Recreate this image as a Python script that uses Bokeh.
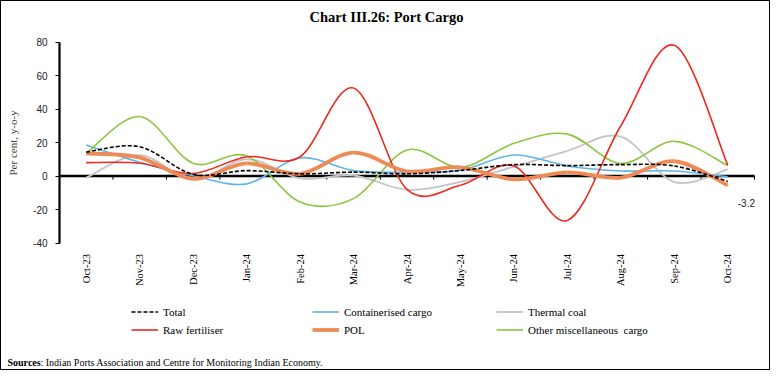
from bokeh.plotting import figure
from bokeh.models import (Range1d, FixedTicker, Label, Legend, LegendItem)
from bokeh.embed import file_html
from bokeh.resources import INLINE
import math

months = ["Oct-23", "Nov-23", "Dec-23", "Jan-24", "Feb-24", "Mar-24", "Apr-24",
          "May-24", "Jun-24", "Jul-24", "Aug-24", "Sep-24", "Oct-24"]
total = [14.3, 17.5, 1.0, 3.2, 1.3, 2.3, 1.3, 3.3, 6.8, 6.2, 6.8, 6.0, -3.2]
containerised = [18.5, 8.2, 0.2, -4.7, 10.8, 3.2, 2.2, 3.5, 12.5, 6.0, 3.0, 3.0, -0.5]
raw_fertiliser = [8.0, 7.6, 1.5, 11.5, 11.5, 52.5, -8.0, -5.5, 6.0, -26.5, 30.0, 78.0, 6.5]
pol = [13.5, 11.0, -1.5, 7.5, 1.3, 14.0, 2.8, 5.2, -2.0, 2.2, -1.0, 8.8, -5.6]
thermal_coal = [-1.0, 12.5, -2.5, 10.0, -1.4, 0.3, -8.2, -3.5, 5.6, 15.0, 23.5, -3.6, 4.0]
other_misc = [13.5, 35.5, 7.6, 12.0, -15.5, -13.5, 15.5, 5.2, 19.5, 25.0, 7.5, 20.7, 6.2]
y_ticks = [-40, -20, 0, 20, 40, 60, 80]

series = [
    ("Total", total, "black", 1.6, "4 2"),
    ("Raw fertiliser", raw_fertiliser, "#F0281E", 1.6, "solid"),
    ("Containerised cargo", containerised, "#5DB4E6", 1.6, "solid"),
    ("POL", pol, "#EE8A55", 3.8, "solid"),
    ("Thermal coal", thermal_coal, "#C4C4C4", 1.8, "solid"),
    ("Other miscellaneous  cargo", other_misc, "#8CC63F", 1.6, "solid"),
]

SERIF = "Liberation Serif"
SANS = "Liberation Sans"

# canvas geometry (pixels)
W, H = 770, 370
PLOT_L, PLOT_R = 58, 753          # plotting area in canvas px
PLOT_T, PLOT_B = 40.5, 241.5      # from top
YMIN, YMAX = y_ticks[0], y_ticks[-1]
n = len(months)
px_per_cat = (PLOT_R - PLOT_L) / n
px_per_unit = (PLOT_B - PLOT_T) / (YMAX - YMIN)
x_start = -0.5 - PLOT_L / px_per_cat
x_end = n - 0.5 + (W - PLOT_R) / px_per_cat
y_end = YMAX + PLOT_T / px_per_unit
y_start = YMIN - (H - PLOT_B) / px_per_unit

p = figure(width=W, height=H, output_backend="svg", toolbar_location=None,
           title=None, x_range=Range1d(x_start, x_end), y_range=Range1d(y_start, y_end),
           min_border=0, min_border_left=0, min_border_right=0, min_border_top=0,
           min_border_bottom=0)
p.styles = {"border": "1px solid black"}
p.outline_line_color = None
p.grid.visible = False
p.background_fill_color = "white"
p.border_fill_color = "white"

# x axis drawn at y = -40 (labels only)
xa = p.xaxis[0]
xa.fixed_location = YMIN
xa.ticker = FixedTicker(ticks=list(range(n)))
xa.major_label_overrides = {i: m for i, m in enumerate(months)}
xa.major_label_orientation = math.pi / 2
xa.axis_line_color = None
xa.major_tick_line_color = None
xa.minor_tick_line_color = None
xa.major_label_standoff = 5
xa.major_label_text_font = SERIF
xa.major_label_text_font_size = "10.5px"
xa.major_label_text_color = "black"

# y axis drawn at the left edge of the categories
ya = p.yaxis[0]
ya.fixed_location = -0.5
ya.bounds = (YMIN, YMAX)
ya.ticker = FixedTicker(ticks=y_ticks)
ya.major_label_overrides = {t: str(t) for t in y_ticks}
ya.axis_line_width = 2.2
ya.axis_line_color = "black"
ya.major_tick_out = 4
ya.major_tick_in = 0
ya.major_tick_line_color = "black"
ya.minor_tick_line_color = None
ya.major_label_text_font = SANS
ya.major_label_text_font_size = "10px"
ya.major_label_text_color = "#222222"
ya.major_label_standoff = 8
ya.axis_label = "Per cent, y-o-y"
ya.axis_label_text_font = SERIF
ya.axis_label_text_font_style = "normal"
ya.axis_label_text_font_size = "11px"
ya.axis_label_standoff = 11

# zero line with tick marks between categories
bounds = [i + 0.5 for i in range(n)]
p.segment(x0=[-0.5], y0=[0], x1=[n - 0.5], y1=[0], line_color="black", line_width=2.5)
p.segment(x0=bounds, y0=[0] * n, x1=bounds, y1=[-2.2] * n,
          line_color="black", line_width=1)

# smoothed curves via Bezier segments (Catmull-Rom control points)
def bezier_src(vals):
    m = len(vals)
    xs = list(range(m))
    d = dict(x0=[], y0=[], x1=[], y1=[], cx0=[], cy0=[], cx1=[], cy1=[])
    for i in range(m - 1):
        im1 = max(i - 1, 0)
        ip2 = min(i + 2, m - 1)
        d["x0"].append(xs[i]); d["y0"].append(vals[i])
        d["x1"].append(xs[i + 1]); d["y1"].append(vals[i + 1])
        d["cx0"].append(xs[i] + (xs[i + 1] - xs[im1]) / 6)
        d["cy0"].append(vals[i] + (vals[i + 1] - vals[im1]) / 6)
        d["cx1"].append(xs[i + 1] - (xs[ip2] - xs[i]) / 6)
        d["cy1"].append(vals[i + 1] - (vals[ip2] - vals[i]) / 6)
    return d

renderers = {}
draw_order = ["Thermal coal", "Containerised cargo", "Other miscellaneous  cargo",
              "Raw fertiliser", "POL", "Total"]
sdict = {s[0]: s for s in series}
for name in draw_order:
    _, vals, color, w, dash = sdict[name]
    r = p.bezier(line_color=color, line_width=w, line_dash=dash, **bezier_src(vals))
    renderers[name] = r

# end label for Total
p.add_layout(Label(x=n - 1, y=total[-1], text=f"{total[-1]}",
                   x_offset=10, y_offset=-22, text_font=SANS, text_font_size="10px",
                   text_color="#222222", text_baseline="middle"))

# legends: three columns of two rows
cols = [["Total", "Raw fertiliser"], ["Containerised cargo", "POL"],
        ["Thermal coal", "Other miscellaneous  cargo"]]
xlocs = [130, 311, 495]
for names, xl in zip(cols, xlocs):
    lg = Legend(items=[LegendItem(label=nm, renderers=[renderers[nm]]) for nm in names],
                location=(xl, 33), orientation="vertical",
                padding=0, margin=0, spacing=1,
                glyph_width=27, glyph_height=17, label_height=17,
                label_standoff=5, label_text_font=SERIF, label_text_font_size="11px",
                label_text_color="black",
                background_fill_alpha=0, border_line_color=None)
    p.add_layout(lg, "center")

# title and source (screen units, canvas px from bottom-left)
p.add_layout(Label(x=W / 2, y=H - 15, x_units="screen", y_units="screen",
                   text="Chart III.26: Port Cargo", text_font=SERIF,
                   text_font_style="bold", text_font_size="14.5px",
                   text_align="center", text_baseline="middle", text_color="black"))
p.add_layout(Label(x=6, y=9, x_units="screen", y_units="screen",
                   text="Sources", text_font=SERIF, text_font_style="bold",
                   text_font_size="10px", text_baseline="middle", text_color="black"))
p.add_layout(Label(x=39, y=9, x_units="screen", y_units="screen",
                   text=": Indian Ports Association and Centre for Monitoring Indian Economy.",
                   text_font=SERIF, text_font_size="10px", text_baseline="middle",
                   text_color="black"))

open("out.html", "w").write(file_html(p, INLINE))
